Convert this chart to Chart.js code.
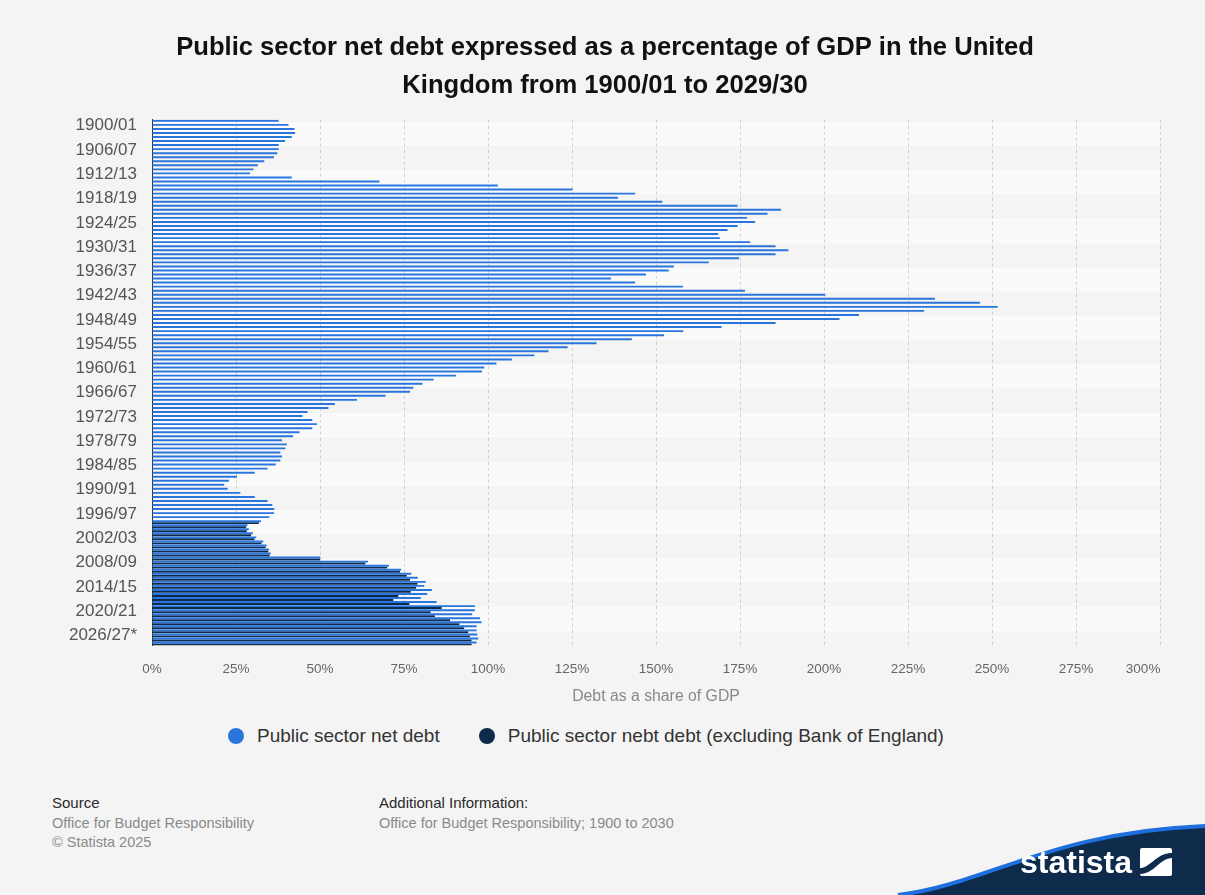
<!DOCTYPE html>
<html>
<head>
<meta charset="utf-8">
<script src="https://cdn.jsdelivr.net/npm/chart.js@4.4.1/dist/chart.umd.min.js"></script>
<style>
  html, body { margin: 0; padding: 0; width: 1205px; height: 895px; overflow: hidden; background: #f4f4f4;
    font-family: "Liberation Sans", Arial, Helvetica, sans-serif; }
  #wrap { position: absolute; left: 0; top: 0; width: 1205px; height: 710px; }
  #legend { position: absolute; left: 228px; top: 724px; height: 24px; display: flex; align-items: center; }
  .li { display: flex; align-items: center; margin-right: 39px; font-size: 19px; color: #333; white-space: nowrap; }
  .dot { width: 16px; height: 16px; border-radius: 50%; margin-right: 13px; flex: none; }
  .foot { position: absolute; font-size: 14.5px; line-height: 19.5px; color: #8a8a8a; }
  .foot b { color: #2a2a2a; font-weight: normal; font-size: 15px; }
  #logo { position: absolute; left: 0; top: 0; }
</style>
</head>
<body>
<div id="wrap"><canvas id="c" width="1205" height="710"></canvas></div>
<div id="legend"></div>
<div class="foot" style="left:52px; top:793px;"><b>Source</b><br>Office for Budget Responsibility<br>© Statista 2025</div>
<div class="foot" style="left:379px; top:793px;"><b>Additional Information:</b><br>Office for Budget Responsibility; 1900 to 2030</div>
<svg id="logo" width="1205" height="895" viewBox="0 0 1205 895">
  <path d="M 898 895 C 985 885, 1050 832, 1205 826 L 1205 895 Z" fill="#0f2b4c"/>
  <path d="M 898 895 C 985 885, 1050 832, 1205 826" fill="none" stroke="#1f6fdf" stroke-width="4"/>
  <text x="1020" y="873" fill="#ffffff" font-family="Liberation Sans, Arial, sans-serif" font-weight="bold" font-size="32">statista</text>
  <rect x="1140" y="848" width="32" height="28" rx="2" fill="#ffffff"/>
  <path d="M 1140 868 C 1150 868, 1158 852, 1172 853 L 1172 858 C 1160 858, 1154 874, 1140 874 Z" fill="#0f2b4c"/>
</svg>
<script>
const categories = [
  '1900/01','1901/02','1902/03','1903/04','1904/05','1905/06','1906/07','1907/08','1908/09','1909/10',
  '1910/11','1911/12','1912/13','1913/14','1914/15','1915/16','1916/17','1917/18','1918/19','1919/20',
  '1920/21','1921/22','1922/23','1923/24','1924/25','1925/26','1926/27','1927/28','1928/29','1929/30',
  '1930/31','1931/32','1932/33','1933/34','1934/35','1935/36','1936/37','1937/38','1938/39','1939/40',
  '1940/41','1941/42','1942/43','1943/44','1944/45','1945/46','1946/47','1947/48','1948/49','1949/50',
  '1950/51','1951/52','1952/53','1953/54','1954/55','1955/56','1956/57','1957/58','1958/59','1959/60',
  '1960/61','1961/62','1962/63','1963/64','1964/65','1965/66','1966/67','1967/68','1968/69','1969/70',
  '1970/71','1971/72','1972/73','1973/74','1974/75','1975/76','1976/77','1977/78','1978/79','1979/80',
  '1980/81','1981/82','1982/83','1983/84','1984/85','1985/86','1986/87','1987/88','1988/89','1989/90',
  '1990/91','1991/92','1992/93','1993/94','1994/95','1995/96','1996/97','1997/98','1998/99','1999/00',
  '2000/01','2001/02','2002/03','2003/04','2004/05','2005/06','2006/07','2007/08','2008/09','2009/10',
  '2010/11','2011/12','2012/13','2013/14','2014/15','2015/16','2016/17','2017/18','2018/19','2019/20',
  '2020/21','2021/22','2022/23','2023/24','2024/25*','2025/26*','2026/27*','2027/28*','2028/29*','2029/30*'
];

const yTickLabels = ['1900/01','1906/07','1912/13','1918/19','1924/25','1930/31','1936/37','1942/43',
  '1948/49','1954/55','1960/61','1966/67','1972/73','1978/79','1984/85','1990/91','1996/97','2002/03',
  '2008/09','2014/15','2020/21','2026/27*'];

const xTickValues = [0, 25, 50, 75, 100, 125, 150, 175, 200, 225, 250, 275, 300];

// Public sector net debt, % of GDP (1900/01 - 2029/30)
const netDebt = [
  37.7, 40.6, 42.4, 42.6, 41.6, 39.6, 37.7, 37.7, 37.3, 36.3,
  33.4, 31.5, 30.2, 29.2, 41.6, 67.7, 102.9, 125.2, 143.8, 138.7,
  151.9, 174.3, 187.2, 183.2, 177.1, 179.5, 174.3, 171.3, 168.5, 169.0,
  178.0, 185.6, 189.4, 185.6, 174.7, 165.7, 155.3, 153.8, 147.0, 136.6,
  143.8, 158.0, 176.5, 200.4, 233.0, 246.4, 251.7, 229.8, 210.4, 204.6,
  185.6, 169.5, 158.1, 152.4, 142.8, 132.3, 123.7, 118.0, 113.8, 107.1,
  102.5, 98.9, 98.2, 90.5, 83.8, 80.5, 77.8, 76.8, 69.5, 61.0,
  54.4, 52.5, 46.3, 44.8, 47.7, 49.1, 47.7, 43.9, 42.0, 38.7,
  40.1, 39.7, 38.2, 38.7, 38.2, 36.8, 34.4, 30.6, 25.3, 22.9,
  21.5, 22.5, 26.3, 30.6, 34.4, 35.8, 36.4, 36.3, 34.9, 32.4,
  28.4, 28.8, 30.0, 31.0, 33.1, 34.1, 34.8, 35.3, 50.1, 64.3,
  70.5, 74.1, 77.2, 79.1, 81.5, 81.0, 83.3, 81.9, 80.0, 84.7,
  96.1, 96.1, 95.3, 97.6, 98.1, 96.6, 96.6, 96.8, 97.1, 96.6
];

// Public sector net debt excluding Bank of England, % of GDP (1999/00 - 2029/30)
const exBoEStart = '1999/00';
const netDebtExBoE = [
  31.8, 28.0, 28.2, 29.5, 30.5, 32.6, 33.8, 34.6, 35.0, 50.0,
  63.5, 70.0, 73.8, 75.8, 76.8, 79.0, 78.6, 77.0, 73.3, 71.8,
  76.6, 86.2, 82.9, 84.2, 88.7, 91.5, 92.9, 94.1, 94.6, 95.1, 95.1
];

const seriesNames = ['Public sector net debt', 'Public sector nebt debt (excluding Bank of England)'];
const seriesColors = ['#2876dd', '#0f2b4c'];

const startIdx = categories.indexOf(exBoEStart);
const exBoEData = categories.map((c, i) => i < startIdx ? null : netDebtExBoE[i - startIdx]);

const bandsPlugin = {
  id: 'bands',
  beforeDraw(chart) {
    const { ctx, chartArea: a, scales: { y } } = chart;
    ctx.save();
    for (let k = 0; k < categories.length; k += 6) {
      if ((k / 6) % 2 !== 0) continue;
      const y0 = y.getPixelForValue(k);
      const y1 = Math.min(y.getPixelForValue(k + 6), a.bottom);
      ctx.fillStyle = '#fafafa';
      ctx.fillRect(a.left, y0, a.width, y1 - y0);
    }
    ctx.restore();
  }
};

Chart.defaults.font.family = '"Liberation Sans", Arial, Helvetica, sans-serif';

const chart = new Chart(document.getElementById('c'), {
  type: 'bar',
  data: {
    labels: categories,
    datasets: [
      { label: seriesNames[0], data: netDebt, backgroundColor: seriesColors[0],
        categoryPercentage: 0.96, barPercentage: 1.0 },
      { label: seriesNames[1], data: exBoEData, backgroundColor: seriesColors[1],
        categoryPercentage: 0.96, barPercentage: 1.0 }
    ]
  },
  options: {
    indexAxis: 'y',
    responsive: false,
    animation: false,
    devicePixelRatio: 1,
    layout: { padding: { left: 50, right: 45, top: 0, bottom: 0 } },
    plugins: {
      legend: { display: false },
      tooltip: { enabled: false },
      title: {
        display: true,
        text: ['Public sector net debt expressed as a percentage of GDP in the United',
               'Kingdom from 1900/01 to 2029/30'],
        color: '#111',
        font: { size: 25.6, weight: 'bold', lineHeight: 1.48 },
        padding: { top: 29, bottom: 15 }
      }
    },
    scales: {
      y: {
        type: 'category',
        position: 'left',
        offset: true,
        grid: { display: false, drawTicks: false },
        border: { display: true, color: '#333', width: 1 },
        ticks: {
          autoSkip: false,
          color: '#555',
          font: { size: 17 },
          padding: 15,
          labelOffset: 4,
          callback: (v, i) => yTickLabels.includes(categories[i]) ? categories[i] : ''
        },
        afterFit: s => { s.width = 102; }
      },
      x: {
        type: 'linear',
        position: 'bottom',
        min: 0, max: 300,
        afterBuildTicks: s => { s.ticks = xTickValues.map(v => ({ value: v })); },
        grid: { color: '#cfcfcf', drawTicks: false, lineWidth: 1 },
        border: { display: false, dash: [3, 3] },
        ticks: {
          color: '#666', font: { size: 13.5 }, padding: 16,
          // the last label is kept inside the plot edge, as in the original
          callback: v => v === 300 ? v + '%         ' : v + '%'
        },
        title: { display: true, text: 'Debt as a share of GDP', color: '#888',
                 font: { size: 15.8 }, padding: { top: 4, bottom: 4 } },
        afterFit: s => { s.height = 64.5; s.paddingLeft = 0; s.paddingRight = 0; }
      }
    }
  },
  plugins: [bandsPlugin]
});

// HTML legend built from the chart's datasets
const legendEl = document.getElementById('legend');
chart.data.datasets.forEach(ds => {
  const item = document.createElement('div');
  item.className = 'li';
  const dot = document.createElement('span');
  dot.className = 'dot';
  dot.style.background = ds.backgroundColor;
  const txt = document.createElement('span');
  txt.textContent = ds.label;
  item.appendChild(dot);
  item.appendChild(txt);
  legendEl.appendChild(item);
});
</script>
</body>
</html>
